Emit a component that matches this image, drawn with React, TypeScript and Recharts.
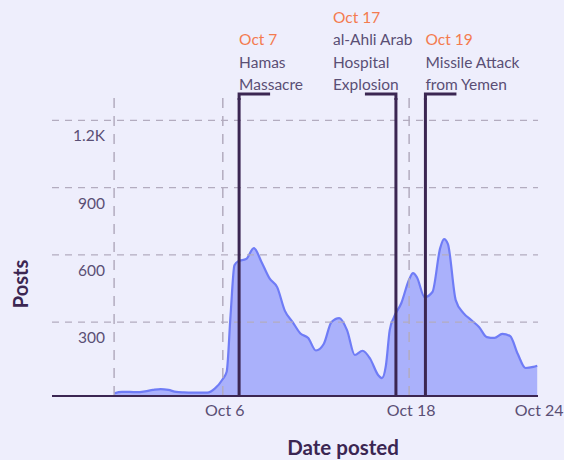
import React from 'react';
import { AreaChart, Area, XAxis, YAxis, ReferenceLine, Label } from 'recharts';

// day of October (0 = Sep 30)
const days = [
  -1, -0.5, 0, 0.5, 1, 1.5, 2, 2.5, 3, 3.5, 4, 4.5, 5, 5.5, 6, 6.25, 6.5, 6.75, 7, 7.5,
  8, 8.5, 9, 9.5, 10, 10.5, 11, 11.5, 12, 12.5, 13, 13.5, 14, 14.5, 15, 15.5, 16, 16.25,
  16.5, 16.75, 17, 17.5, 18, 18.25, 18.5, 19, 19.5, 20, 20.25, 20.5, 21, 21.5, 22, 22.5,
  23, 23.5, 24, 24.5, 25, 25.5, 26, 26.25,
];
const posts = [
  -18, -12, -12, -13, -9, -3, 1, -3, -12, -14, -15, -15, -15, 4, 46, 78, 331, 554, 572, 581,
  630, 567, 496, 456, 350, 300, 249, 229, 173, 202, 300, 318, 264, 153, 172, 135, 64, 50,
  104, 264, 318, 385, 490, 518, 500, 411, 434, 630, 670, 648, 398, 340, 309, 278,
  233, 229, 247, 238, 157, 95, 100, 105,
];

const yTicks = [300, 600, 900, 1200];
const yTickLabels = ['300', '600', '900', '1.2K'];
const xTicks = [6, 18, 26.25];
const xTickLabels = ['Oct 6', 'Oct 18', 'Oct 24'];
const guideDays = [-1, 6, 18];

const eventDays = [7.05, 17.15, 19.05];
const eventDates = ['Oct 7', 'Oct 17', 'Oct 19'];
const eventTexts = [
  ['Hamas', 'Massacre'],
  ['al-Ahli Arab', 'Hospital', 'Explosion'],
  ['Missile Attack', 'from Yemen'],
];

const data = days.map((d, i) => ({ day: d, posts: posts[i] }));

const font = 'Lato, "Open Sans", sans-serif';
const dark = '#3b2652';
const textColor = '#5a4f75';
const orange = '#f47b4f';
const gridColor = '#b3acbf';

// layout of the annotations
const tabDir = [1, -1, 1];
const textDx = [0, -63, 0];

const YTick = (props: any) => {
  const { y, payload } = props;
  const i = yTicks.indexOf(payload.value);
  return (
    <text x={105} y={y + 21} textAnchor="end" fill={textColor} fontSize={15.5} fontFamily={font}>
      {yTickLabels[i]}
    </text>
  );
};

const XTick = (props: any) => {
  const { x, payload } = props;
  const i = xTicks.indexOf(payload.value);
  return (
    <text x={x + 2} y={416} textAnchor="middle" fill={textColor} fontSize={16} fontFamily={font}>
      {xTickLabels[i]}
    </text>
  );
};

const EventLabel = (props: any) => {
  const { viewBox, idx } = props;
  const x = viewBox.x;
  const top = viewBox.y - 4;
  const lines = [eventDates[idx], ...eventTexts[idx]];
  const tx = x + textDx[idx];
  return (
    <g>
      <path
        d={`M${x + tabDir[idx] * 31},${top} H${x} V${viewBox.y + 2}`}
        stroke={dark}
        strokeWidth={3}
        fill="none"
      />
      {lines.map((t, j) => (
        <text
          key={j}
          x={tx}
          y={90 - (lines.length - 1 - j) * 22.3}
          fill={j === 0 ? orange : textColor}
          fontSize={15.5}
          fontFamily={font}
        >
          {t}
        </text>
      ))}
    </g>
  );
};

export default function App() {
  return (
    <div style={{ position: 'fixed', left: 0, top: 0, width: 564, height: 460, background: '#eeeefc' }}>
      <AreaChart width={564} height={460} data={data} margin={{ top: 98, right: 26, bottom: 0, left: 0 }}>
        <XAxis
          dataKey="day"
          type="number"
          domain={[-5, 26.3]}
          ticks={xTicks}
          interval={0}
          tick={<XTick />}
          tickLine={false}
          axisLine={{ stroke: dark, strokeWidth: 2 }}
          height={64}
        >
          <Label
            content={() => (
              <text x={343} y={447} textAnchor="middle" dominantBaseline="central" fill={dark} fontSize={20.5} fontWeight={700} fontFamily={font}>
                Date posted
              </text>
            )}
          />
        </XAxis>
        <YAxis
          type="number"
          domain={[-30, 1300]}
          ticks={yTicks}
          interval={0}
          tick={<YTick />}
          tickLine={false}
          axisLine={false}
          width={52}
        >
          <Label
            content={() => (
              <text x={20} y={284} textAnchor="middle" dominantBaseline="central" transform="rotate(-90, 20, 284)" fill={dark} fontSize={20} fontWeight={700} fontFamily={font}>
                Posts
              </text>
            )}
          />
        </YAxis>
        {yTicks.map((v) => (
          <ReferenceLine key={'h' + v} y={v} stroke={gridColor} strokeDasharray="7 6" strokeWidth={1.2} />
        ))}
        <Area
          type="monotone"
          dataKey="posts"
          baseValue="dataMin"
          stroke="#6f7cf6"
          strokeWidth={2.2}
          fill="#aab1fb"
          fillOpacity={1}
          isAnimationActive={false}
        />
        {guideDays.map((d) => (
          <ReferenceLine key={'g' + d} x={d} stroke={gridColor} strokeDasharray="10 8" strokeWidth={1.5} />
        ))}
        {eventDays.map((d, i) => (
          <ReferenceLine key={'e' + i} x={d} stroke={dark} strokeWidth={3} label={<EventLabel idx={i} />} />
        ))}
      </AreaChart>
    </div>
  );
}
